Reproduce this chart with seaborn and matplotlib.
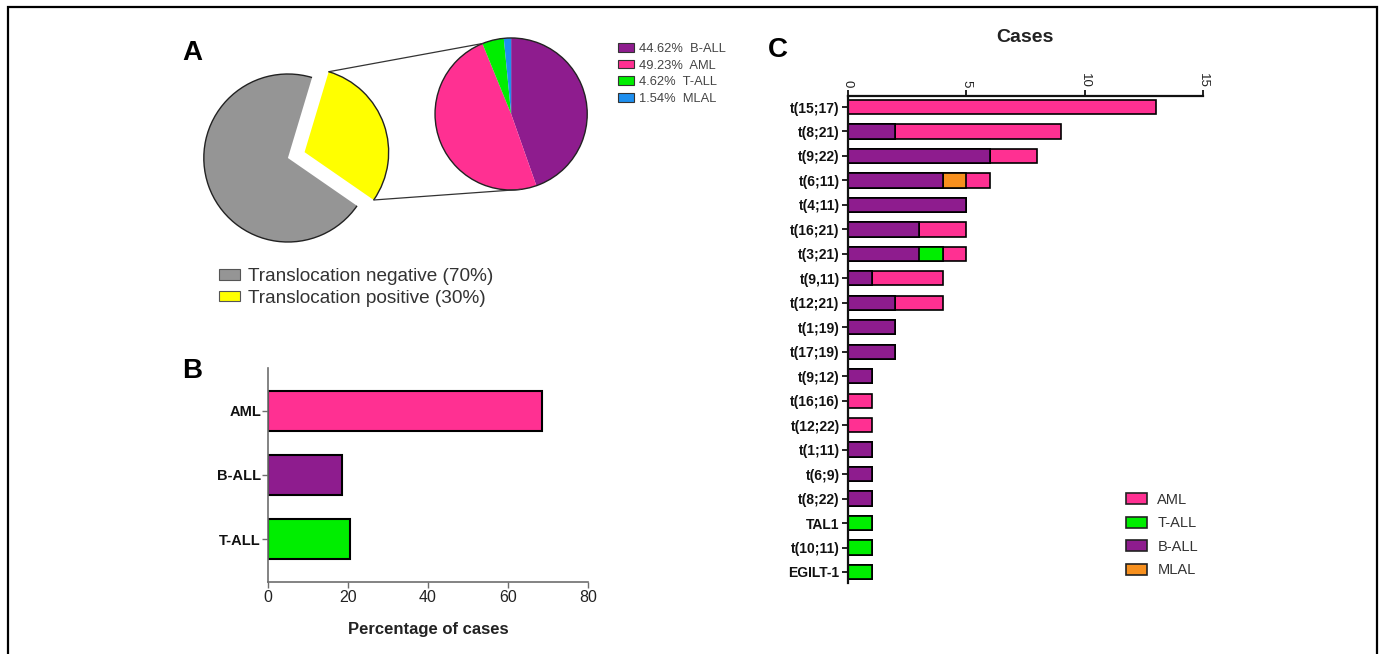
import numpy as np
import pandas as pd
import matplotlib
matplotlib.use("Agg")
import matplotlib.pyplot as plt
from matplotlib.patches import Patch, Rectangle, Arc
import seaborn as sns

# ---- Panel A: overall translocation status and subtype split of positives
overall_labels = ["Translocation negative (70%)", "Translocation positive (30%)"]
overall_share = [70, 30]
subtype_names = ["B-ALL", "AML", "T-ALL", "MLAL"]
subtype_share = [44.62, 49.23, 4.62, 1.54]

# ---- Panel B: lineage distribution
lineages = ["AML", "B-ALL", "T-ALL"]
lineage_pct = [68.6, 18.6, 20.6]

# ---- Panel C: cases per translocation, split by lineage
translocations = ["t(15;17)", "t(8;21)", "t(9;22)", "t(6;11)", "t(4;11)",
                  "t(16;21)", "t(3;21)", "t(9,11)", "t(12;21)", "t(1;19)",
                  "t(17;19)", "t(9;12)", "t(16;16)", "t(12;22)", "t(1;11)",
                  "t(6;9)", "t(8;22)", "TAL1", "t(10;11)", "EGILT-1"]
cases_ball = [0, 2, 6, 4, 5, 3, 3, 1, 2, 2, 2, 1, 0, 0, 1, 1, 1, 0, 0, 0]
cases_tall = [0, 0, 0, 0, 0, 0, 1, 0, 0, 0, 0, 0, 0, 0, 0, 0, 0, 1, 1, 1]
cases_mlal = [0, 0, 0, 1, 0, 0, 0, 0, 0, 0, 0, 0, 0, 0, 0, 0, 0, 0, 0, 0]
cases_aml = [13, 7, 2, 1, 0, 2, 1, 3, 2, 0, 0, 0, 1, 1, 0, 0, 0, 0, 0, 0]

PURPLE = "#8E1C8E"
PINK = "#FF3092"
GREEN = "#00EE00"
BLUE = "#1E8FEF"
ORANGE = "#F7901E"
GRAY = "#959595"
YELLOW = "#FFFF00"
subtype_colors = {"B-ALL": PURPLE, "AML": PINK, "T-ALL": GREEN, "MLAL": BLUE}

sns.set_style("ticks")
plt.rcParams["font.family"] = ["Liberation Sans", "DejaVu Sans"]

W, H = 1383, 654
fig = plt.figure(figsize=(W / 100, H / 100), dpi=100)
fig.patch.set_facecolor("white")


def px_rect(left, top, right, bottom):
    return [left / W, 1 - bottom / H, (right - left) / W, (bottom - top) / H]


# outer frame
fig.add_artist(Rectangle((8 / W, -0.05), (1377 - 8) / W, 1.05 - 7 / H,
                         transform=fig.transFigure, fill=False,
                         edgecolor="black", linewidth=1.6))

# ================= Panel A =================
axA = fig.add_axes(px_rect(187, 23.6, 599, 254.6))
main_w, _ = axA.pie(overall_share, colors=[GRAY, YELLOW], startangle=73.3,
                    counterclock=True, explode=[0, 0.21], radius=1.0,
                    center=(0, 0), wedgeprops=dict(linewidth=0))
for w in main_w:
    axA.add_patch(Arc(w.center, 2 * w.r, 2 * w.r, theta1=w.theta1,
                      theta2=w.theta2, color="#222222", linewidth=1.0))

zoom_center = (2.655, 0.524)
zoom_r = 0.905
zoom_w, _ = axA.pie(subtype_share,
                    colors=[subtype_colors[n] for n in subtype_names],
                    startangle=90, counterclock=False, radius=zoom_r,
                    center=zoom_center, wedgeprops=dict(linewidth=0))
axA.add_patch(Arc(zoom_center, 2 * zoom_r, 2 * zoom_r, theta1=0, theta2=360,
                  color="#222222", linewidth=1.0))

# guide lines from the positive wedge to the enlarged pie
pos = main_w[1]
cx, cy = pos.center
p_top = (cx + pos.r * np.cos(np.radians(pos.theta2)),
         cy + pos.r * np.sin(np.radians(pos.theta2)))
p_bot = (cx + pos.r * np.cos(np.radians(pos.theta1)),
         cy + pos.r * np.sin(np.radians(pos.theta1)))
z_top = (zoom_center[0] + zoom_r * np.cos(np.radians(112)),
         zoom_center[1] + zoom_r * np.sin(np.radians(112)))
z_bot = (zoom_center[0] + zoom_r * np.cos(np.radians(-83)),
         zoom_center[1] + zoom_r * np.sin(np.radians(-83)))
for a, b in [(p_top, z_top), (p_bot, z_bot)]:
    axA.plot([a[0], b[0]], [a[1], b[1]], color="#333333", linewidth=0.9)

axA.set_aspect("auto")
axA.set_xlim(-1.2, 3.7)
axA.set_ylim(-1.15, 1.6)
axA.axis("off")

fig.legend([Patch(facecolor=GRAY, edgecolor="#555555", linewidth=0.8),
            Patch(facecolor=YELLOW, edgecolor="#555555", linewidth=0.8)],
           overall_labels, loc="upper left",
           bbox_to_anchor=(219 / W, 1 - 268 / H), frameon=False,
           fontsize=13.7, handlelength=1.12, handleheight=0.5,
           handletextpad=0.42, labelspacing=0.25, borderpad=0,
           borderaxespad=0, labelcolor="#333333")

fig.legend([Patch(facecolor=subtype_colors[n], edgecolor="#333333", linewidth=0.8)
            for n in subtype_names],
           [f"{v:.2f}%  {n}" for v, n in zip(subtype_share, subtype_names)],
           loc="upper left", bbox_to_anchor=(618 / W, 1 - 43 / H),
           frameon=False, fontsize=9.3, handlelength=1.2, handleheight=0.64,
           handletextpad=0.4, labelspacing=0.36, borderpad=0,
           borderaxespad=0, labelcolor="#444444")

# ================= Panel B =================
axB = fig.add_axes(px_rect(268, 368, 588, 582))
dfB = pd.DataFrame({"lineage": lineages, "pct": lineage_pct})
sns.barplot(data=dfB, x="pct", y="lineage", hue="lineage",
            palette=[PINK, PURPLE, GREEN], legend=False, orient="h",
            width=0.635, edgecolor="black", linewidth=1.5, saturation=1,
            ax=axB)
axB.set_xlim(0, 80)
axB.set_ylim(2.67, -0.67)
axB.set_xticks([0, 20, 40, 60, 80])
axB.set_ylabel("")
axB.set_xlabel("Percentage of cases", fontsize=12, fontweight="bold",
               labelpad=12, color="#222222")
for s in ["top", "right"]:
    axB.spines[s].set_visible(False)
for s in ["left", "bottom"]:
    axB.spines[s].set_color("#6E6E6E")
    axB.spines[s].set_linewidth(1.2)
axB.tick_params(axis="x", length=4, width=1.0, color="#6E6E6E", pad=2,
                labelsize=11.5, labelcolor="#222222")
axB.tick_params(axis="y", length=4, width=1.0, color="#6E6E6E", pad=1,
                labelsize=10.5, labelcolor="#111111")
for t in axB.get_yticklabels():
    t.set_fontweight("bold")

# ================= Panel C =================
axC = fig.add_axes(px_rect(848, 96, 1203, 583))
ball = np.array(cases_ball)
bt = ball + np.array(cases_tall)
btm = bt + np.array(cases_mlal)
total = btm + np.array(cases_aml)
for vals, col in [(total, PINK), (btm, ORANGE), (bt, GREEN), (ball, PURPLE)]:
    sns.barplot(x=vals, y=translocations, color=col, orient="h", width=0.585,
                edgecolor="black", linewidth=1.2, saturation=1, ax=axC)
axC.set_xlim(0, 15)
axC.set_ylim(len(translocations) - 1 + 0.45, -0.45)
axC.set_xticks([0, 5, 10, 15])
axC.xaxis.tick_top()
axC.set_xlabel("")
axC.set_ylabel("")
for s in ["bottom", "right"]:
    axC.spines[s].set_visible(False)
for s in ["top", "left"]:
    axC.spines[s].set_color("#111111")
    axC.spines[s].set_linewidth(1.6)
axC.tick_params(axis="x", length=4, width=1.3, color="#111111", pad=2,
                labelsize=9.5, labelcolor="#222222", labelrotation=-90)
axC.tick_params(axis="y", length=4, width=1.3, color="#111111", pad=2,
                labelsize=10, labelcolor="#111111")
for t in axC.get_yticklabels():
    t.set_fontweight("bold")

fig.text(1025 / W, 1 - 37 / H, "Cases", fontsize=14, fontweight="bold",
         ha="center", va="center", color="#222222")

legend_order = ["AML", "T-ALL", "B-ALL", "MLAL"]
legend_cols = {"AML": PINK, "T-ALL": GREEN, "B-ALL": PURPLE, "MLAL": ORANGE}
fig.legend([Patch(facecolor=legend_cols[n], edgecolor="#222222", linewidth=1.2)
            for n in legend_order], legend_order, loc="upper left",
           bbox_to_anchor=(1126 / W, 1 - 493 / H), frameon=False,
           fontsize=10.5, handlelength=1.45, handleheight=0.78,
           handletextpad=0.7, labelspacing=0.65, borderpad=0,
           borderaxespad=0, labelcolor="#333333")

# panel letters
for letter, x, y in [("A", 182, 60), ("B", 182, 378), ("C", 768, 57)]:
    fig.text(x / W, 1 - y / H, letter, fontsize=20, fontweight="bold",
             ha="left", va="baseline", color="black")

fig.savefig("out.png", dpi=100)
